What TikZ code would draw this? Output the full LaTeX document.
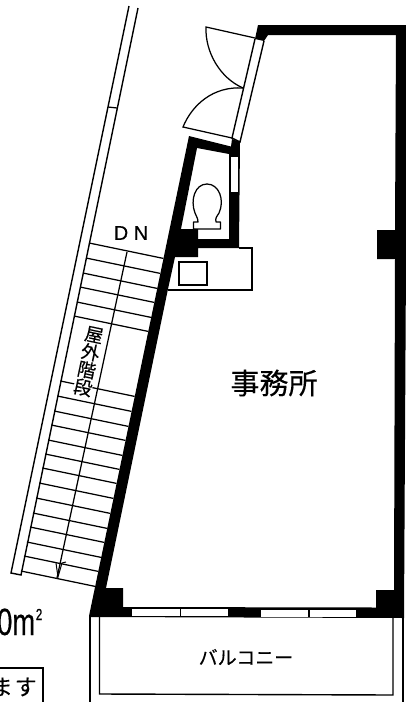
\documentclass[tikz,border=0pt]{standalone}
\usepackage{fontspec}
\setmainfont{Liberation Sans}
\newfontfamily\cjk[FakeBold=0.25]{Noto Sans CJK JP}
\newfontfamily\heavy[FakeBold=0.3]{Liberation Sans}
\newfontfamily\heavier[FakeBold=1]{Liberation Sans}
\tikzset{
  plan/.style={draw=black,line width=1.4pt,line join=miter},
  fine/.style={draw=black,line width=1.25pt},
  wall/.style={fill=black,draw=none},
  glass/.style={fill=white,draw=none},
  label/.style={inner sep=0pt,font=\cjk}
}
\begin{document}
\begin{tikzpicture}[x=1pt,y=-1pt]
\useasboundingbox (0,0) rectangle (406,702);
\clip (0,0) rectangle (406,702);
\fill[white] (0,0) rectangle (406,702);

% outside stair: rails
\draw[plan] (129,6) -- (11,573) -- (21,575) -- (138,8);
\draw[fine] (108,107) -- (117,108);
% stair treads
\foreach \t in {243,258,273,287,302,316,381,396,411,425,440,454,468,483,498,513,527,542,556,571}
  \draw[fine] ({138-0.208*(\t-8)},\t) -- ++(74.2,15.4);
% stair centre line and arrow
\draw[fine] (127,252) -- (57,578);
\draw[line width=1pt] (56,563) -- (58,577) -- (62,563) -- (66,562);

% walls
\path[wall,even odd rule]
  (89,616) -- (189,136) -- (231,146.5) -- (232,139) -- (240,142) -- (239,248)
  -- (198,248) -- (198,257) -- (175,257) -- (168,289) -- (106,588) -- (123,588)
  -- (123,607) -- (376,607.5) -- (376,590) -- (394,590) -- (395,259) -- (377,259)
  -- (377,230) -- (395,230) -- (396,35) -- (268,35) -- (264,41) -- (255,39)
  -- (258,25) -- (406,25) -- (406,260) -- (404,618) -- (89,617) -- cycle
  (197,148) -- (229,154) -- (229,239) -- (198,239) -- (198,229) -- (181,229) -- cycle;

% windows in the balcony wall
\path[glass] (132,609) rectangle (179.5,616);
\path[glass] (181,609) rectangle (228,616);
\path[glass] (261,609.5) rectangle (308,616.5);
\path[glass] (310,609.5) rectangle (356,616.5);
% toilet window
\path[glass] (230.5,157) rectangle (238,192);

% glazed front and doors
\draw[plan] (255,39) -- (232,138) -- (240,142) -- (264,41);
\draw[fine] (255,38) -- (206,27) .. controls (205,52) and (220,78) .. (243,88);
\draw[fine] (232,138) -- (183,127) .. controls (192,105) and (213,86) .. (243,88);

% toilet
\draw[fine,line join=round] (193.5,229) -- (193.5,222) -- (198,222)
  .. controls (198,218) and (196,216) .. (195,213)
  .. controls (190,200) and (195,184) .. (207,184)
  .. controls (219,184) and (225,200) .. (219,213)
  .. controls (217,216) and (215,218) .. (216,222) -- (220.5,222) -- (220.5,229) -- cycle;

% counter and sink
\draw[plan] (168,290) -- (252,290) -- (252,248) -- (239,248);
\draw[plan] (179,262) rectangle (207,285);

% balcony
\draw[plan] (90,617) -- (90,702);
\draw[plan] (99.5,617) -- (99.5,694) -- (393,695) -- (393,618);
\draw[plan] (403,618) -- (403,702);

% labels
\node[label,fill=white,rotate=-12,align=center,font=\cjk\fontsize{18.5}{18}\selectfont] (stairlabel) at (88.5,361.5) {屋\\外\\階\\段};
\node[inner sep=0pt,font=\heavy\fontsize{20}{20}\selectfont] (dn) at (131,233) {D N};
\node[label,font=\cjk\fontsize{29}{29}\selectfont] (office) at (274,383) {事務所};
\node[label,font=\cjk\fontsize{19}{19}\selectfont] (balcony) at (246,657) {バルコニー};
\node[inner sep=0pt,anchor=base west,transform shape,xscale=.72,font=\heavy\fontsize{38}{38}\selectfont] (area) at (-3,635) {0m\hspace{1pt}\raisebox{15pt}{\heavier\fontsize{16}{16}\selectfont 2}};
\node[label,anchor=east,font=\cjk\fontsize{22}{22}\selectfont] (note) at (37,687) {ま\hspace{2pt}す};
\draw[plan] (0,668) -- (43,668) -- (43,702);
\end{tikzpicture}
\end{document}
